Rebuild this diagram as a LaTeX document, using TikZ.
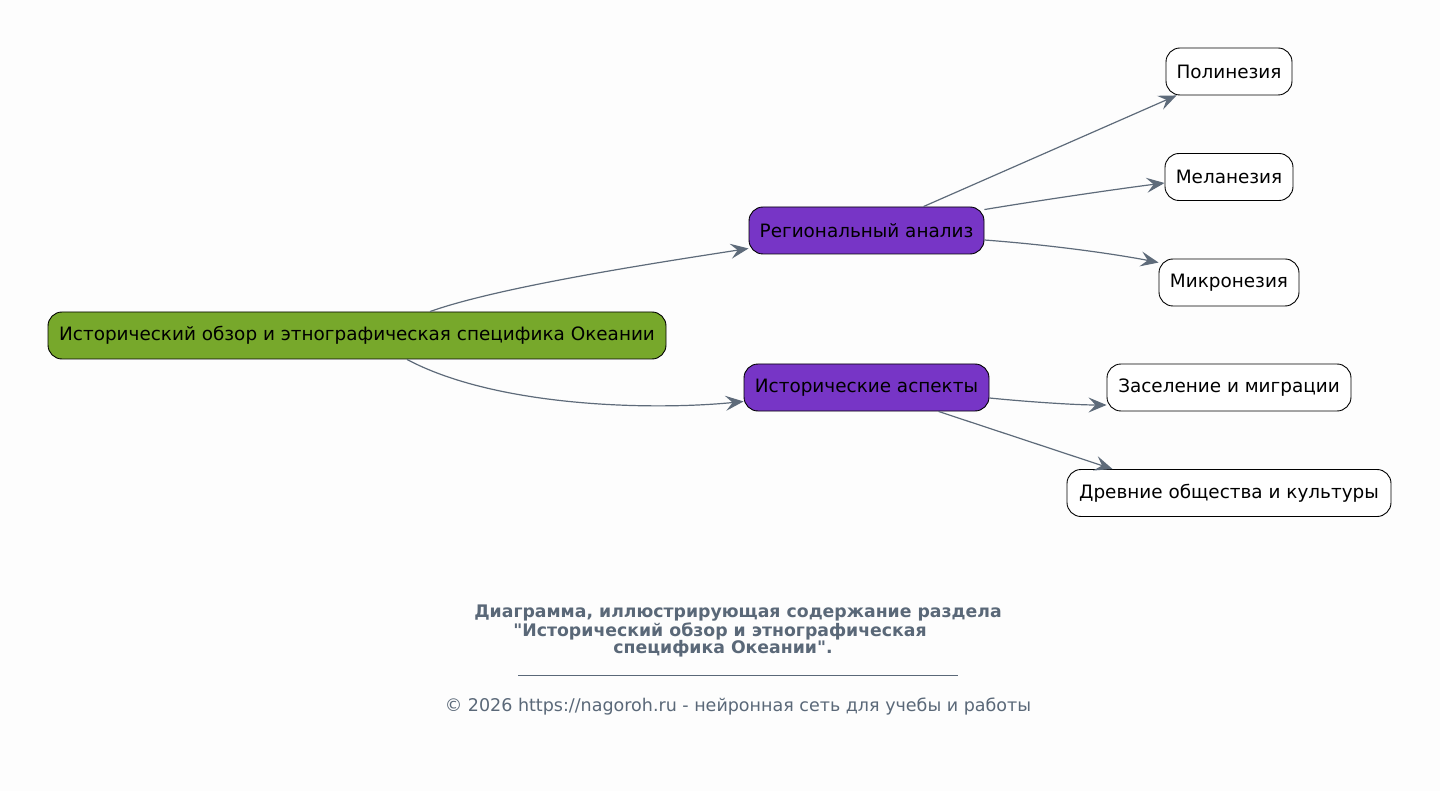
\documentclass[tikz,border=0pt]{standalone}
\usepackage{fontspec}
\setmainfont{DejaVu Sans}
\usetikzlibrary{arrows.meta,calc}
\definecolor{bgc}{HTML}{FDFDFD}
\definecolor{edgec}{HTML}{5E6B7A}
\definecolor{rootc}{HTML}{77A82B}
\definecolor{midc}{HTML}{7735C6}
\definecolor{capc}{HTML}{5A6878}
\tikzset{
  box/.style={draw=black, line width=0.9pt, rounded corners=14pt, minimum height=47pt, inner xsep=0pt, inner ysep=0pt, font=\fontsize{18.4}{22}\selectfont, text=black},
  rootbox/.style={box, fill=rootc},
  midbox/.style={box, fill=midc},
  leafbox/.style={box, fill=white},
  conn/.style={draw=edgec, line width=1.2pt, -{Stealth[length=18pt,width=15pt,inset=7pt]}},
  captxt/.style={text=capc, font=\fontsize{17.3}{20}\selectfont\bfseries},
  foottxt/.style={text=capc, font=\fontsize{17.5}{20}\selectfont},
}
\begin{document}
\begin{tikzpicture}[x=1pt,y=-1pt]
\fill[bgc] (0,0) rectangle (1440,791);
\useasboundingbox (0,0) rectangle (1440,791);

\node[rootbox, minimum width=618pt] (root) at (357,335.5) {Исторический обзор и этнографическая специфика Океании};
\node[midbox, minimum width=235pt] (reg) at (866.5,230.5) {Региональный анализ};
\node[midbox, minimum width=245pt] (hist) at (866.5,387.5) {Исторические аспекты};
\node[leafbox, minimum width=126pt] (pol) at (1229,71.5) {Полинезия};
\node[leafbox, minimum width=128pt] (mel) at (1229,177) {Меланезия};
\node[leafbox, minimum width=140pt] (mic) at (1229,282.5) {Микронезия};
\node[leafbox, minimum width=244pt] (zas) at (1229,387.5) {Заселение и миграции};
\node[leafbox, minimum width=324pt] (drev) at (1229,493) {Древние общества и культуры};

\draw[conn] ([xshift=73pt]root.north) .. controls +(70,-25) and +(-90,14) .. ([yshift=6pt]reg.south west);
\draw[conn] ([xshift=50pt]root.south) .. controls +(90,48) and +(-90,9) .. ([yshift=10pt]hist.south west);
\draw[conn] ([xshift=57pt]reg.north) -- ([xshift=11pt]pol.south west);
\draw[conn] ([yshift=-3pt]reg.north east) .. controls +(60,-10) and +(-40,5) .. ([yshift=-6pt]mel.west);
\draw[conn] ([yshift=-9.5pt]reg.east) .. controls +(80,6) and +(-30,-6) .. ([yshift=-4pt]mic.north west);
\draw[conn] ([yshift=-10.5pt]hist.east) .. controls +(40,4) and +(-30,0) .. ([yshift=-17.5pt]zas.west);
\draw[conn] ([xshift=72pt]hist.south) -- ([xshift=46pt]drev.north west);

\node[captxt] (cap1) at (738,613) {Диаграмма, иллюстрирующая содержание раздела};
\node[captxt] (cap2) at (720,631) {\textquotedbl Исторический обзор и этнографическая};
\node[captxt] (cap3) at (723,648.5) {специфика Океании\textquotedbl .};
\coordinate (rl) at (518,675);
\coordinate (rr) at (958,675);
\draw[capc, line width=0.6pt] (rl) -- (rr);
\node[foottxt] (foot) at (738,706.5) {© 2026 https://nagoroh.ru - нейронная сеть для учебы и работы};
\end{tikzpicture}
\end{document}
